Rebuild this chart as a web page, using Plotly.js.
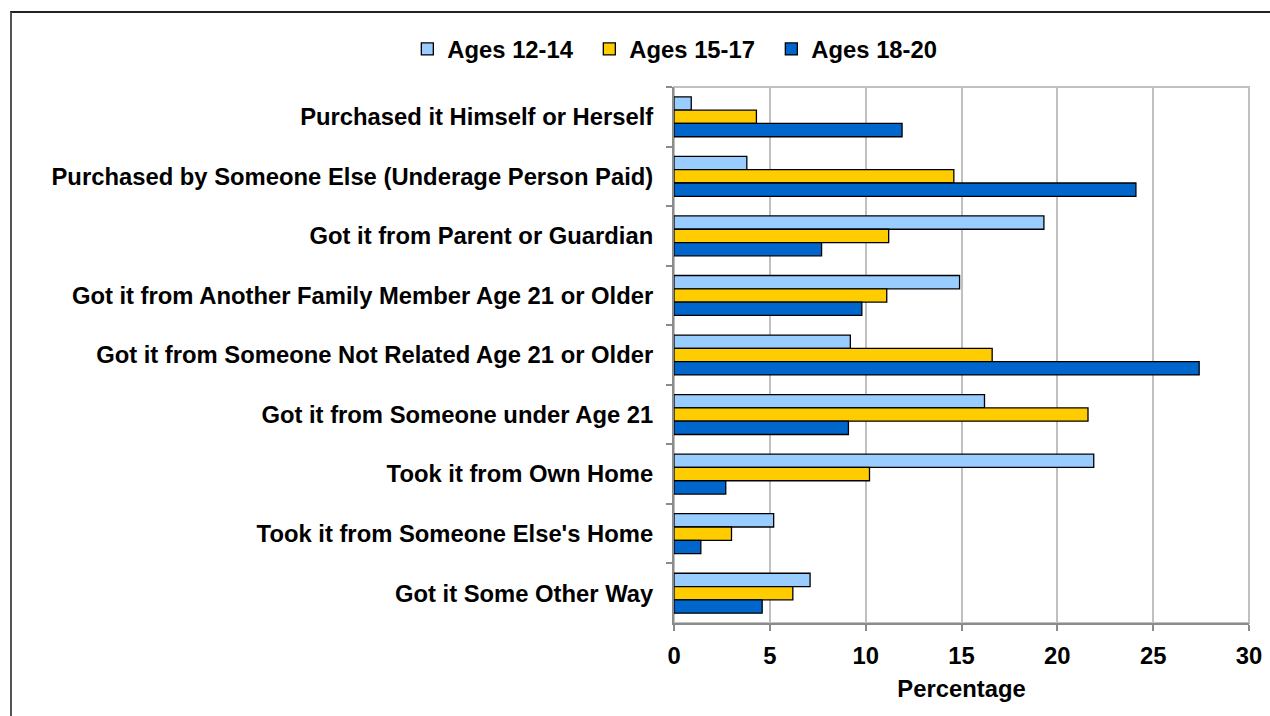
<!DOCTYPE html>
<html>
<head>
<meta charset="utf-8">
<script src="https://cdn.plot.ly/plotly-3.0.1.min.js"></script>
<style>
  html, body { margin: 0; padding: 0; background: #fff; overflow: hidden; }
  #chart { position: absolute; left: 0; top: 0; width: 1270px; height: 716px; }
  #frame { position: absolute; left: 10px; top: 11px; width: 1300px; height: 760px;
           border-top: 2px solid #222; border-left: 2px solid #555; pointer-events: none; }
</style>
</head>
<body>
<div id="chart"></div>
<div id="frame"></div>
<script>
const categories = [
  "Purchased it Himself or Herself",
  "Purchased by Someone Else (Underage Person Paid)",
  "Got it from Parent or Guardian",
  "Got it from Another Family Member Age 21 or Older",
  "Got it from Someone Not Related Age 21 or Older",
  "Got it from Someone under Age 21",
  "Took it from Own Home",
  "Took it from Someone Else's Home",
  "Got it Some Other Way"
];
const seriesNames = ["Ages 12-14", "Ages 15-17", "Ages 18-20"];
const ages12to14 = [0.9, 3.8, 19.3, 14.9, 9.2, 16.2, 21.9, 5.2, 7.1];
const ages15to17 = [4.3, 14.6, 11.2, 11.1, 16.6, 21.6, 10.2, 3.0, 6.2];
const ages18to20 = [11.9, 24.1, 7.7, 9.8, 27.4, 9.1, 2.7, 1.4, 4.6];
const xTickValues = [0, 5, 10, 15, 20, 25, 30];

const colors = ["#99CCFF", "#FFCC00", "#0066CC"];
const values = [ages12to14, ages15to17, ages18to20];

const FONT = "Liberation Sans, Arial, sans-serif";
const FS = 23.8;

const traces = values.map((v, i) => ({
  type: "bar",
  orientation: "h",
  name: seriesNames[i],
  y: categories,
  x: v,
  marker: { color: colors[i], line: { color: "#000", width: 1.3 } },
  hoverinfo: "x+name"
}));

const layout = {
  width: 1270,
  height: 716,
  paper_bgcolor: "#fff",
  plot_bgcolor: "#fff",
  margin: { l: 674, r: 21, t: 87, b: 93, pad: 0 },
  barmode: "group",
  bargap: 0.33,
  bargroupgap: 0,
  font: { family: FONT, size: FS, color: "#000", weight: "bold" },
  showlegend: true,
  legend: {
    orientation: "h",
    x: 0.011, xref: "paper", xanchor: "center",
    y: 1.071, yref: "paper", yanchor: "middle",
    font: { family: FONT, size: FS, color: "#000", weight: "bold" },
    traceorder: "normal",
    itemwidth: 30,
    entrywidth: 137,
    entrywidthmode: "pixels",
    bgcolor: "rgba(0,0,0,0)"
  },
  xaxis: {
    range: [0, 30],
    tickvals: xTickValues,
    ticktext: xTickValues.map(String),
    showgrid: true,
    gridcolor: "#C0C0C0",
    gridwidth: 2,
    zeroline: false,
    showline: true,
    linecolor: "#8c8c8c",
    linewidth: 2,
    ticks: "outside",
    ticklen: 6,
    tickwidth: 2,
    tickcolor: "#8c8c8c",
    ticklabelstandoff: 4,
    tickfont: { family: FONT, size: FS, color: "#000", weight: "bold" },
    title: { text: "Percentage", font: { family: FONT, size: FS, color: "#000", weight: "bold" }, standoff: 13 },
    fixedrange: true
  },
  yaxis: {
    type: "category",
    autorange: "reversed",
    showgrid: false,
    zeroline: false,
    showline: true,
    linecolor: "#8c8c8c",
    linewidth: 2,
    ticks: "outside",
    tickson: "boundaries",
    ticklen: 6,
    tickwidth: 2,
    tickcolor: "#8c8c8c",
    ticklabelstandoff: 14,
    tickfont: { family: FONT, size: FS, color: "#000", weight: "bold" },
    fixedrange: true
  },
  shapes: [{
    type: "rect", xref: "paper", yref: "paper", x0: 0, x1: 1, y0: 0, y1: 1,
    line: { color: "#C0C0C0", width: 2 }, layer: "below"
  }]
};

Plotly.newPlot("chart", traces, layout, { displayModeBar: false, staticPlot: false });
</script>
</body>
</html>
